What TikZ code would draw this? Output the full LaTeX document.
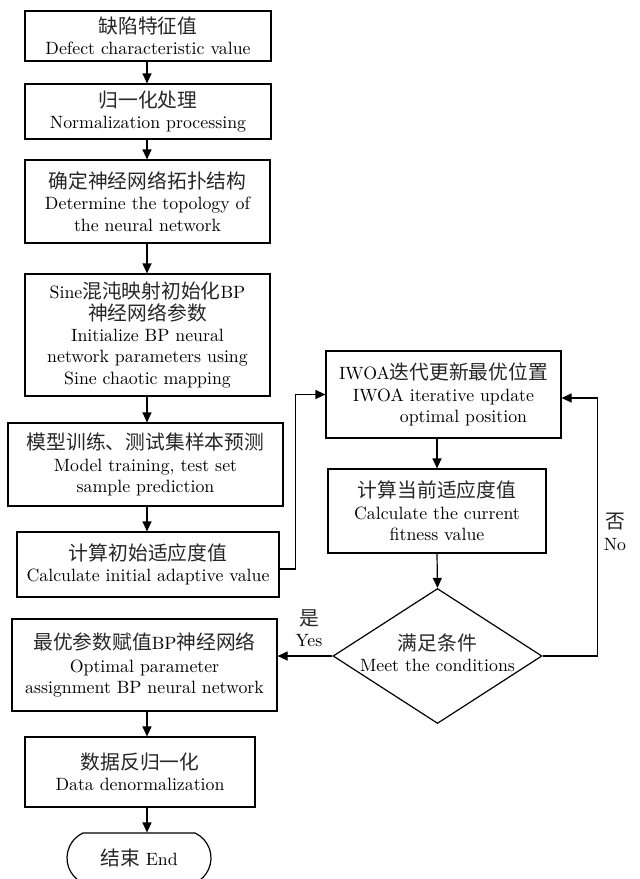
\documentclass[tikz,border=0pt]{standalone}
\usepackage{fontspec}
\setmainfont{lmroman10-regular}[Extension=.otf]
\newfontfamily\cjk{Noto Sans CJK SC}[Scale=1.11,Color=262626]
\usetikzlibrary{arrows.meta,shapes.geometric,shapes.misc}

\begin{document}
\begin{tikzpicture}[x=1pt,y=-1pt,
  every node/.style={font=\fontsize{17.8}{21.3}\selectfont, text=black, align=center, inner sep=0pt},
  box/.style={draw, line width=1.2pt, rectangle},
  arr/.style={line width=1.2pt, -{Triangle[length=10pt,width=9pt]}},
]
\useasboundingbox (0,0) rectangle (640,879);

% main column
\coordinate (colx) at (147,0);
\node[box, minimum width=246, minimum height=50] (b1) at (148,36)
  {{\cjk 缺陷特征值}\\Defect characteristic value};
\node[box, minimum width=246, minimum height=55] (b2) at (148,111.5)
  {{\cjk 归一化处理}\\Normalization processing};
\node[box, minimum width=245, minimum height=83] (b3) at (147.5,201.5)
  {{\cjk 确定神经网络拓扑结构}\\Determine the topology of\\the neural network};
\node[box, minimum width=245, minimum height=122] (b4) at (147.5,335)
  {Sine{\cjk 混沌映射初始化}BP\\{\cjk 神经网络参数}\\Initialize BP neural\\network parameters using\\Sine chaotic mapping};
\node[box, minimum width=275, minimum height=83] (b5) at (145.5,464.5)
  {{\cjk 模型训练、测试集样本预测}\\Model training, test set\\sample prediction};
\node[box, minimum width=262, minimum height=65] (b6) at (148,564.5)
  {{\cjk 计算初始适应度值}\\Calculate initial adaptive value};
\node[box, minimum width=265, minimum height=92] (b7) at (144.5,665)
  {{\cjk 最优参数赋值}BP{\cjk 神经网络}\\[2pt]Optimal parameter\\assignment BP neural network};
\node[box, minimum width=230, minimum height=70] (b8) at (140,772)
  {{\cjk 数据反归一化}\\Data denormalization};
\node[draw, line width=1.2pt, rounded rectangle, rounded rectangle arc length=130,
  minimum width=144, minimum height=50] (end) at (139,858)
  {{\cjk 结束} End};

% optimisation loop
\node[box, minimum width=235, minimum height=87] (iwoa) at (443.5,394.5)
  {IWOA{\cjk 迭代更新最优位置}\\IWOA iterative update\\\hspace*{40pt}optimal position};
\node[box, minimum width=218, minimum height=84] (calc) at (437,511)
  {{\cjk 计算当前适应度值}\\Calculate the current\\fitness value};
\node[draw, line width=1.2pt, diamond, minimum width=209, minimum height=135] (dia) at (437.5,656) {};
\node (diat) at (437.5,653) {{\cjk 满足条件}\\Meet the conditions};

% labels
\node (yes) at (309,628) {{\cjk 是}\\Yes};
\node (no) at (615,532) {{\cjk 否}\\No};

% connectors
\draw[arr] (b1.south -| colx) -- (b2.north -| colx);
\draw[arr] (b2.south -| colx) -- (b3.north -| colx);
\draw[arr] (b3.south -| colx) -- (b4.north -| colx);
\draw[arr] (b4.south -| colx) -- (b5.north -| colx);
\draw[arr] (b5.south -| colx) -- (b6.north -| colx);
\draw[arr] (b7.south -| colx) -- (b8.north -| colx);
\draw[arr] (b8.south -| colx) -- (end.north -| colx);

\draw[arr] ([yshift=-4.5pt]b6.east) -- ++(16,0) |- (iwoa.west);
\draw[arr] (iwoa.south -| calc.north) -- (calc.north);
\draw[arr] (calc.south) -- (dia.north);
\draw[arr] (dia.east) -- ++(55,0) |- ([yshift=-3.5pt]iwoa.east);
\draw[arr] (dia.west) -- (b7.east |- dia.west);
\end{tikzpicture}
\end{document}
